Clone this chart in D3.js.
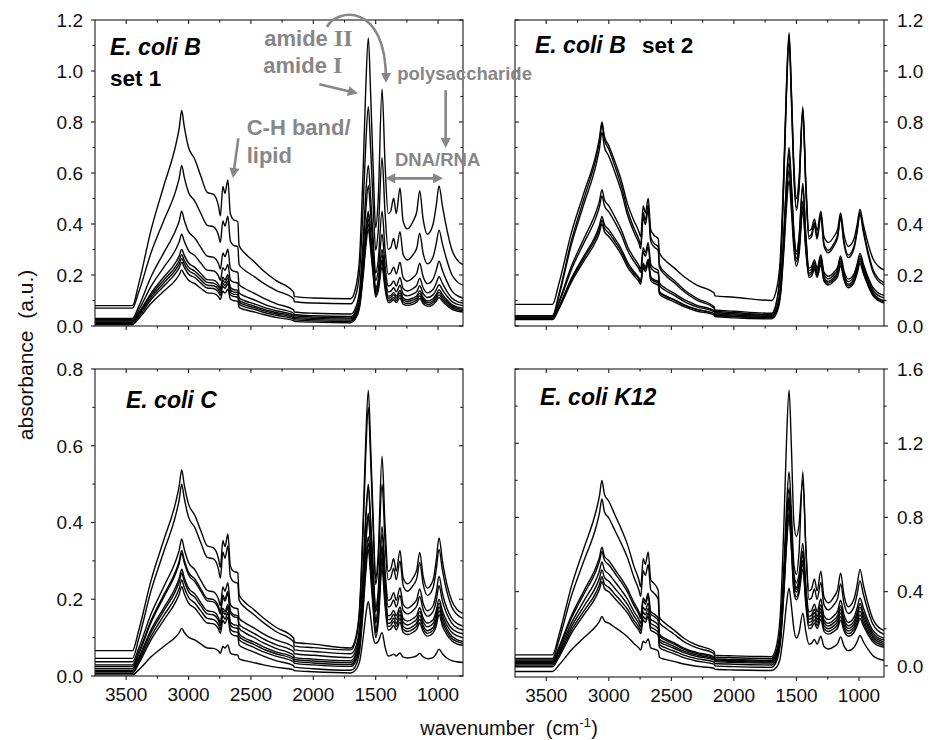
<!DOCTYPE html>
<html><head><meta charset="utf-8">
<script src="https://cdn.jsdelivr.net/npm/d3@7"></script>
<style>
body{margin:0;background:#fff;}
svg{display:block;font-family:"Liberation Sans",Arial,Helvetica,sans-serif;}
</style>
</head><body>
<svg id="chart" width="933" height="740"></svg>
<script>
// ---------------- DATA ----------------
const wavenumbers = [3750,3450,3400,3300,3200,3100,3075,3055,3035,3000,2950,2900,2850,2800,2760,2745,2725,2708,2685,2665,2640,2605,
 2595,2550,2480,2400,2300,2158, 2152,2000,1700,
 1665,1630,1600,1580,1559,1540,1520,1500,1480,1449, 1425,
 1400,1380,1356,1335,1305,1280,1245,1200,1170,1147,1120,1085,1040,1015,992,965,930,890,850,800];

// E. coli B, set 1 (absorbance per wavenumber, one row per spectrum)
const ecoliB_set1 = [
 [0.08,0.08,0.164,0.378,0.547,0.715,0.776,0.845,0.784,0.70,0.654,0.585,0.524,0.516,0.47,0.432,0.547,0.52,0.573,0.44,0.417,0.409, 0.317,0.286,0.255,0.217,0.179,0.133, 0.115,0.11,0.107, 0.141,0.263,0.62,0.926,1.13,0.906,0.62,0.385,0.494,0.93, 0.637, 0.441,0.45,0.501,0.441,0.54,0.411,0.381,0.411,0.45,0.531,0.42,0.36,0.399,0.471,0.549,0.471,0.381,0.30,0.261,0.24],
 [0.07,0.07,0.132,0.288,0.412,0.535,0.58,0.63,0.585,0.524,0.49,0.44,0.395,0.389,0.356,0.328,0.412,0.392,0.431,0.333,0.316,0.311, 0.241,0.219,0.196,0.168,0.14,0.107, 0.095,0.09,0.087, 0.113,0.206,0.475,0.706,0.86,0.691,0.475,0.298,0.37,0.66, 0.445, 0.301,0.307,0.343,0.301,0.37,0.28,0.259,0.28,0.307,0.364,0.286,0.244,0.271,0.322,0.376,0.322,0.259,0.202,0.175,0.16],
 [0.03,0.03,0.076,0.194,0.286,0.379,0.412,0.45,0.416,0.37,0.345,0.307,0.274,0.269,0.244,0.223,0.286,0.272,0.301,0.227,0.215,0.211, 0.163,0.147,0.13,0.109,0.088,0.063, 0.055,0.05,0.047, 0.067,0.137,0.34,0.514,0.63,0.502,0.34,0.207,0.256,0.45, 0.302, 0.204,0.208,0.232,0.204,0.25,0.19,0.176,0.19,0.208,0.246,0.194,0.166,0.184,0.218,0.254,0.218,0.176,0.138,0.12,0.11],
 [0.025,0.025,0.062,0.156,0.229,0.303,0.33,0.36,0.333,0.296,0.276,0.246,0.219,0.216,0.196,0.179,0.229,0.218,0.241,0.182,0.172,0.169, 0.13,0.117,0.104,0.087,0.07,0.05, 0.045,0.04,0.037, 0.055,0.117,0.295,0.448,0.55,0.438,0.295,0.178,0.214,0.36, 0.238, 0.157,0.16,0.177,0.157,0.19,0.147,0.137,0.147,0.16,0.187,0.15,0.13,0.143,0.167,0.193,0.167,0.137,0.11,0.097,0.09],
 [0.02,0.02,0.051,0.129,0.191,0.252,0.275,0.30,0.278,0.247,0.23,0.205,0.182,0.18,0.163,0.149,0.191,0.181,0.201,0.152,0.143,0.14, 0.111,0.099,0.088,0.074,0.06,0.043, 0.04,0.035,0.032, 0.047,0.097,0.243,0.367,0.45,0.359,0.243,0.147,0.178,0.30, 0.20, 0.134,0.136,0.15,0.134,0.16,0.126,0.118,0.126,0.136,0.158,0.128,0.112,0.122,0.142,0.162,0.142,0.118,0.096,0.086,0.08],
 [0.02,0.02,0.049,0.121,0.179,0.236,0.257,0.28,0.259,0.231,0.215,0.192,0.171,0.168,0.153,0.14,0.179,0.17,0.188,0.142,0.134,0.132, 0.1,0.09,0.079,0.066,0.053,0.038, 0.034,0.03,0.028, 0.042,0.092,0.235,0.358,0.44,0.35,0.235,0.141,0.169,0.28, 0.182, 0.117,0.119,0.131,0.117,0.14,0.11,0.103,0.11,0.119,0.138,0.112,0.098,0.107,0.124,0.142,0.124,0.103,0.084,0.075,0.07],
 [0.015,0.015,0.043,0.113,0.168,0.223,0.243,0.265,0.245,0.218,0.203,0.18,0.16,0.158,0.143,0.13,0.168,0.159,0.176,0.133,0.125,0.123, 0.093,0.083,0.073,0.06,0.048,0.033, 0.029,0.025,0.023, 0.037,0.084,0.223,0.341,0.42,0.333,0.223,0.132,0.158,0.26, 0.169, 0.109,0.111,0.122,0.109,0.13,0.102,0.096,0.102,0.111,0.128,0.104,0.091,0.099,0.115,0.132,0.115,0.096,0.078,0.07,0.065],
 [0.01,0.01,0.036,0.104,0.156,0.209,0.228,0.25,0.231,0.204,0.19,0.168,0.149,0.147,0.132,0.12,0.156,0.148,0.165,0.123,0.116,0.113, 0.085,0.075,0.066,0.054,0.042,0.027, 0.024,0.02,0.018, 0.031,0.077,0.21,0.324,0.40,0.316,0.21,0.123,0.148,0.25, 0.16, 0.1,0.102,0.112,0.1,0.12,0.094,0.088,0.094,0.102,0.118,0.096,0.084,0.092,0.106,0.122,0.106,0.088,0.072,0.064,0.06],
 [0.005,0.005,0.029,0.089,0.136,0.183,0.201,0.22,0.203,0.179,0.166,0.147,0.13,0.128,0.115,0.104,0.136,0.129,0.144,0.106,0.1,0.097, 0.073,0.064,0.056,0.045,0.034,0.021, 0.018,0.015,0.013, 0.026,0.07,0.198,0.307,0.38,0.30,0.198,0.114,0.137,0.23, 0.147, 0.092,0.094,0.103,0.092,0.11,0.086,0.081,0.086,0.094,0.108,0.088,0.077,0.084,0.097,0.112,0.097,0.081,0.066,0.059,0.055]
];

// E. coli B, set 2
const ecoliB_set2 = [
 [0.085,0.085,0.164,0.364,0.521,0.678,0.736,0.80,0.743,0.707,0.643,0.571,0.478,0.414,0.371,0.35,0.471,0.443,0.50,0.378,0.357,0.342, 0.287,0.258,0.229,0.194,0.161,0.129, 0.118,0.113,0.10, 0.132,0.258,0.625,0.94,1.15,0.919,0.625,0.50,0.572,0.86, 0.568, 0.374,0.381,0.42,0.374,0.45,0.351,0.328,0.351,0.381,0.443,0.358,0.312,0.342,0.397,0.457,0.397,0.328,0.266,0.236,0.22],
 [0.04,0.04,0.123,0.333,0.498,0.663,0.723,0.79,0.73,0.693,0.625,0.55,0.453,0.385,0.34,0.318,0.445,0.415,0.475,0.348,0.325,0.31, 0.24,0.21,0.18,0.143,0.109,0.075, 0.063,0.058,0.05, 0.083,0.214,0.595,0.922,1.14,0.90,0.595,0.464,0.541,0.85, 0.551, 0.351,0.359,0.405,0.351,0.44,0.324,0.297,0.324,0.359,0.432,0.332,0.278,0.313,0.378,0.448,0.378,0.297,0.224,0.189,0.17],
 [0.035,0.035,0.115,0.318,0.477,0.637,0.695,0.76,0.702,0.666,0.601,0.528,0.434,0.369,0.325,0.303,0.427,0.398,0.456,0.332,0.311,0.296, 0.229,0.20,0.171,0.135,0.102,0.07, 0.058,0.053,0.045, 0.077,0.206,0.583,0.905,1.12,0.884,0.583,0.454,0.531,0.84, 0.541, 0.341,0.349,0.395,0.341,0.43,0.314,0.287,0.314,0.349,0.422,0.322,0.268,0.303,0.368,0.438,0.368,0.287,0.214,0.179,0.16],
 [0.04,0.04,0.094,0.233,0.342,0.451,0.49,0.535,0.495,0.471,0.426,0.377,0.312,0.268,0.238,0.223,0.307,0.288,0.327,0.243,0.228,0.218, 0.169,0.149,0.129,0.104,0.082,0.06, 0.053,0.048,0.042, 0.062,0.141,0.371,0.568,0.70,0.555,0.371,0.292,0.346,0.56, 0.36, 0.227,0.232,0.259,0.227,0.28,0.211,0.195,0.211,0.232,0.275,0.216,0.184,0.205,0.243,0.285,0.243,0.195,0.152,0.131,0.12],
 [0.035,0.035,0.087,0.22,0.325,0.429,0.467,0.51,0.472,0.448,0.406,0.358,0.296,0.254,0.225,0.211,0.292,0.273,0.311,0.23,0.216,0.206, 0.159,0.14,0.121,0.097,0.076,0.055, 0.048,0.043,0.038, 0.057,0.134,0.359,0.552,0.68,0.539,0.359,0.282,0.335,0.545, 0.348, 0.217,0.222,0.249,0.217,0.27,0.201,0.185,0.201,0.222,0.265,0.206,0.174,0.195,0.233,0.275,0.233,0.185,0.142,0.121,0.11],
 [0.03,0.03,0.074,0.186,0.274,0.362,0.394,0.43,0.398,0.378,0.342,0.302,0.25,0.214,0.19,0.178,0.246,0.23,0.262,0.194,0.182,0.174, 0.136,0.12,0.104,0.084,0.066,0.048, 0.043,0.038,0.034, 0.052,0.125,0.337,0.519,0.64,0.507,0.337,0.264,0.309,0.49, 0.32, 0.207,0.212,0.239,0.207,0.26,0.191,0.175,0.191,0.212,0.255,0.196,0.164,0.185,0.223,0.265,0.223,0.175,0.132,0.111,0.10],
 [0.03,0.03,0.072,0.18,0.265,0.35,0.38,0.415,0.384,0.365,0.33,0.292,0.242,0.207,0.184,0.172,0.238,0.223,0.253,0.188,0.176,0.169, 0.132,0.117,0.102,0.082,0.065,0.048, 0.042,0.037,0.032, 0.049,0.119,0.321,0.494,0.61,0.483,0.321,0.252,0.296,0.47, 0.307, 0.199,0.204,0.23,0.199,0.25,0.183,0.168,0.183,0.204,0.245,0.188,0.157,0.177,0.214,0.255,0.214,0.168,0.126,0.106,0.095],
 [0.025,0.025,0.066,0.171,0.254,0.336,0.366,0.40,0.37,0.351,0.318,0.28,0.231,0.198,0.175,0.164,0.228,0.213,0.243,0.179,0.168,0.16, 0.125,0.11,0.095,0.076,0.059,0.043, 0.037,0.032,0.028, 0.044,0.109,0.299,0.462,0.57,0.451,0.299,0.234,0.277,0.45, 0.295, 0.191,0.195,0.221,0.191,0.24,0.176,0.161,0.176,0.195,0.236,0.18,0.15,0.17,0.206,0.245,0.206,0.161,0.12,0.101,0.09]
];

// E. coli C
const ecoliC = [
 [0.066,0.066,0.118,0.25,0.353,0.457,0.495,0.537,0.499,0.448,0.419,0.377,0.339,0.334,0.306,0.283,0.353,0.337,0.37,0.287,0.273,0.269, 0.212,0.193,0.174,0.151,0.127,0.099, 0.088,0.083,0.073, 0.093,0.174,0.409,0.61,0.744,0.596,0.409,0.254,0.318,0.573, 0.393, 0.273,0.278,0.306,0.273,0.327,0.256,0.24,0.256,0.278,0.322,0.261,0.229,0.25,0.30,0.36,0.30,0.24,0.196,0.174,0.163],
 [0.046,0.046,0.096,0.223,0.323,0.423,0.459,0.50,0.464,0.414,0.387,0.346,0.309,0.305,0.278,0.255,0.323,0.307,0.339,0.259,0.246,0.241, 0.198,0.179,0.161,0.139,0.116,0.089, 0.078,0.074,0.068, 0.087,0.163,0.384,0.574,0.70,0.561,0.384,0.239,0.291,0.50, 0.351, 0.251,0.255,0.281,0.251,0.30,0.236,0.221,0.236,0.255,0.296,0.24,0.21,0.23,0.276,0.33,0.276,0.221,0.18,0.161,0.15],
 [0.037,0.037,0.072,0.162,0.232,0.303,0.328,0.357,0.331,0.296,0.277,0.248,0.223,0.219,0.20,0.184,0.232,0.221,0.243,0.187,0.178,0.175, 0.151,0.139,0.126,0.11,0.094,0.075, 0.068,0.064,0.058, 0.071,0.124,0.279,0.412,0.50,0.403,0.279,0.177,0.22,0.39, 0.274, 0.197,0.20,0.217,0.197,0.23,0.187,0.177,0.187,0.20,0.227,0.19,0.17,0.183,0.215,0.26,0.215,0.177,0.15,0.137,0.13],
 [0.029,0.029,0.062,0.145,0.211,0.276,0.30,0.327,0.303,0.27,0.253,0.226,0.202,0.199,0.181,0.166,0.211,0.20,0.221,0.169,0.16,0.157, 0.135,0.124,0.112,0.097,0.082,0.064, 0.058,0.054,0.048, 0.061,0.114,0.269,0.402,0.49,0.393,0.269,0.167,0.208,0.37, 0.256, 0.18,0.183,0.198,0.18,0.21,0.171,0.162,0.171,0.183,0.207,0.174,0.156,0.168,0.195,0.235,0.195,0.162,0.138,0.126,0.12],
 [0.025,0.025,0.057,0.14,0.205,0.27,0.293,0.32,0.296,0.264,0.246,0.22,0.196,0.193,0.175,0.161,0.205,0.195,0.215,0.164,0.155,0.152, 0.125,0.113,0.101,0.086,0.072,0.054, 0.048,0.044,0.04, 0.052,0.098,0.232,0.347,0.424,0.34,0.232,0.144,0.183,0.34, 0.23, 0.157,0.159,0.171,0.157,0.18,0.15,0.143,0.15,0.159,0.178,0.152,0.138,0.147,0.17,0.20,0.17,0.143,0.124,0.115,0.11],
 [0.02,0.02,0.048,0.121,0.177,0.234,0.255,0.278,0.257,0.229,0.214,0.19,0.17,0.167,0.152,0.139,0.177,0.168,0.186,0.141,0.134,0.131, 0.11,0.099,0.089,0.076,0.063,0.048, 0.043,0.039,0.035, 0.046,0.092,0.225,0.339,0.415,0.331,0.225,0.138,0.176,0.33, 0.22, 0.147,0.149,0.161,0.147,0.17,0.14,0.133,0.14,0.149,0.168,0.142,0.128,0.137,0.16,0.19,0.16,0.133,0.114,0.105,0.10],
 [0.015,0.015,0.043,0.114,0.169,0.225,0.245,0.268,0.248,0.22,0.205,0.182,0.162,0.159,0.144,0.131,0.169,0.16,0.178,0.134,0.126,0.124, 0.103,0.093,0.083,0.07,0.058,0.043, 0.038,0.034,0.03, 0.04,0.08,0.197,0.296,0.363,0.29,0.197,0.12,0.158,0.31, 0.206, 0.137,0.139,0.151,0.137,0.16,0.13,0.123,0.13,0.139,0.158,0.132,0.118,0.127,0.15,0.18,0.15,0.123,0.104,0.095,0.09],
 [0.011,0.011,0.037,0.104,0.157,0.209,0.228,0.25,0.231,0.205,0.19,0.169,0.15,0.147,0.133,0.121,0.157,0.148,0.165,0.123,0.116,0.114, 0.095,0.085,0.075,0.063,0.052,0.037, 0.033,0.029,0.025, 0.035,0.073,0.186,0.282,0.346,0.275,0.186,0.112,0.15,0.30, 0.197, 0.129,0.131,0.142,0.129,0.15,0.122,0.116,0.122,0.131,0.148,0.124,0.111,0.119,0.14,0.17,0.14,0.116,0.098,0.09,0.085],
 [0.007,0.007,0.032,0.095,0.145,0.195,0.213,0.233,0.215,0.19,0.177,0.156,0.138,0.136,0.122,0.111,0.145,0.137,0.153,0.113,0.106,0.104, 0.081,0.072,0.063,0.052,0.04,0.027, 0.023,0.019,0.015, 0.024,0.062,0.173,0.267,0.33,0.261,0.173,0.10,0.136,0.28, 0.184, 0.12,0.122,0.132,0.12,0.14,0.114,0.108,0.114,0.122,0.138,0.116,0.104,0.112,0.13,0.16,0.13,0.108,0.092,0.084,0.08],
 [0.003,0.003,0.016,0.05,0.077,0.103,0.113,0.124,0.114,0.101,0.094,0.083,0.073,0.072,0.065,0.059,0.077,0.073,0.081,0.06,0.056,0.055, 0.045,0.04,0.035,0.029,0.023,0.016, 0.014,0.011,0.008, 0.014,0.036,0.101,0.157,0.194,0.153,0.101,0.085,0.09,0.113, 0.076, 0.052,0.053,0.057,0.052,0.06,0.049,0.047,0.049,0.053,0.059,0.05,0.045,0.048,0.058,0.07,0.058,0.047,0.04,0.037,0.035]
];

// E. coli K12
const ecoliK12 = [
 [0.059,0.059,0.163,0.426,0.633,0.84,0.915,1.0,0.925,0.887,0.812,0.737,0.652,0.539,0.464,0.426,0.577,0.548,0.614,0.464,0.445,0.407, 0.262,0.23,0.194,0.149,0.113,0.077, 0.058,0.054,0.05, 0.093,0.266,0.769,1.20,1.487,1.171,0.769,0.697,0.758,1.0, 0.642, 0.404,0.414,0.468,0.404,0.51,0.372,0.34,0.372,0.414,0.50,0.382,0.318,0.36,0.436,0.52,0.436,0.34,0.254,0.212,0.19],
 [0.04,0.04,0.135,0.375,0.565,0.754,0.823,0.90,0.831,0.797,0.728,0.659,0.582,0.479,0.41,0.375,0.513,0.487,0.547,0.41,0.393,0.358, 0.234,0.205,0.172,0.131,0.098,0.065, 0.048,0.044,0.04, 0.07,0.191,0.544,0.846,1.047,0.825,0.544,0.493,0.604,1.047, 0.634, 0.358,0.366,0.414,0.358,0.45,0.33,0.302,0.33,0.366,0.442,0.338,0.282,0.318,0.386,0.458,0.386,0.302,0.226,0.19,0.17],
 [0.032,0.032,0.099,0.269,0.403,0.537,0.585,0.64,0.591,0.567,0.518,0.47,0.415,0.342,0.293,0.269,0.366,0.348,0.391,0.293,0.281,0.257, 0.169,0.148,0.125,0.096,0.073,0.049, 0.038,0.034,0.03, 0.058,0.169,0.494,0.772,0.957,0.753,0.494,0.447,0.49,0.66, 0.439, 0.291,0.297,0.333,0.291,0.36,0.27,0.249,0.27,0.297,0.354,0.276,0.234,0.261,0.312,0.366,0.312,0.249,0.192,0.165,0.15],
 [0.025,0.025,0.09,0.255,0.386,0.516,0.563,0.616,0.569,0.545,0.498,0.451,0.397,0.326,0.279,0.255,0.35,0.332,0.374,0.279,0.267,0.244, 0.16,0.14,0.117,0.089,0.067,0.044, 0.033,0.029,0.025, 0.052,0.158,0.468,0.733,0.91,0.715,0.468,0.423,0.462,0.62, 0.408, 0.267,0.273,0.305,0.267,0.33,0.248,0.229,0.248,0.273,0.324,0.254,0.216,0.241,0.286,0.336,0.286,0.229,0.178,0.153,0.14],
 [0.018,0.018,0.078,0.229,0.349,0.468,0.511,0.56,0.517,0.495,0.452,0.408,0.359,0.294,0.251,0.229,0.316,0.30,0.338,0.251,0.24,0.219, 0.144,0.126,0.105,0.079,0.059,0.037, 0.028,0.024,0.02, 0.046,0.151,0.457,0.719,0.894,0.702,0.457,0.413,0.45,0.60, 0.391, 0.251,0.256,0.287,0.251,0.31,0.233,0.215,0.233,0.256,0.305,0.238,0.202,0.225,0.269,0.315,0.269,0.215,0.166,0.143,0.13],
 [0.012,0.012,0.068,0.209,0.32,0.431,0.472,0.517,0.477,0.456,0.416,0.376,0.33,0.27,0.229,0.209,0.29,0.275,0.31,0.229,0.219,0.199, 0.131,0.114,0.095,0.071,0.051,0.032, 0.023,0.019,0.015, 0.041,0.143,0.441,0.697,0.867,0.68,0.441,0.398,0.432,0.57, 0.368, 0.234,0.239,0.268,0.234,0.29,0.217,0.20,0.217,0.239,0.285,0.222,0.188,0.21,0.251,0.295,0.251,0.20,0.154,0.132,0.12],
 [0.005,0.005,0.057,0.19,0.295,0.399,0.437,0.48,0.442,0.423,0.385,0.347,0.304,0.247,0.209,0.19,0.266,0.252,0.285,0.209,0.20,0.181, 0.115,0.098,0.08,0.058,0.039,0.021, 0.013,0.009,0.005, 0.029,0.127,0.413,0.657,0.82,0.641,0.413,0.372,0.408,0.55, 0.35, 0.217,0.222,0.249,0.217,0.27,0.201,0.185,0.201,0.222,0.265,0.206,0.174,0.195,0.233,0.275,0.233,0.185,0.142,0.121,0.11],
 [-0.005,-0.005,0.045,0.174,0.275,0.376,0.413,0.454,0.417,0.399,0.362,0.325,0.284,0.229,0.192,0.174,0.247,0.234,0.266,0.192,0.183,0.165, 0.099,0.083,0.066,0.044,0.026,0.009, 0.0,-0.004,-0.008, 0.016,0.113,0.396,0.638,0.80,0.622,0.396,0.356,0.389,0.52, 0.329, 0.201,0.205,0.231,0.201,0.25,0.186,0.171,0.186,0.205,0.246,0.19,0.16,0.18,0.216,0.255,0.216,0.171,0.13,0.111,0.10],
 [-0.03,-0.03,0.003,0.085,0.151,0.216,0.239,0.266,0.242,0.23,0.207,0.183,0.156,0.121,0.097,0.085,0.133,0.124,0.145,0.097,0.091,0.08, 0.045,0.035,0.024,0.01,-0.002,-0.013, -0.018,-0.022,-0.025, -0.012,0.041,0.197,0.329,0.418,0.321,0.197,0.15,0.177,0.284, 0.184, 0.117,0.121,0.143,0.117,0.16,0.104,0.091,0.104,0.121,0.156,0.108,0.082,0.099,0.13,0.164,0.13,0.091,0.056,0.039,0.03]
];

const xTickValues = [3500,3000,2500,2000,1500,1000];
const xMinorTicks = [3250,2750,2250,1750,1250];
const yTicksB = [0,0.2,0.4,0.6,0.8,1.0,1.2];
const yMinorB = [0.1,0.3,0.5,0.7,0.9,1.1];
const yTicksC = [0,0.2,0.4,0.6,0.8];
const yMinorC = [0.1,0.3,0.5,0.7];
const yTicksK12 = [0,0.4,0.8,1.2,1.6];
const yMinorK12 = [0.2,0.6,1.0,1.4];
const panelNames = ["E. coli B", "E. coli B", "E. coli C", "E. coli K12"];
const panelSets = ["set 1", "set 2", "", ""];

// annotations of the first panel (wavenumber, absorbance)
const annotationTexts = [
 {text:"amide ", roman:"II", wn:2393, a:1.099, size:22},
 {text:"amide ", roman:"I", wn:2401, a:0.991, size:22},
 {text:"polysaccharide", wn:1327, a:0.965, size:18.5},
 {text:"C-H band/", wn:2534, a:0.749, size:22},
 {text:"lipid", wn:2534, a:0.639, size:22},
 {text:"DNA/RNA", wn:1345, a:0.627, size:18.5}
];
const curvedArrow = [[1890,1.173],[1810,1.247],[1417,1.271],[1417,0.965]];
const straightArrows = [
 {from:[1952,0.948], to:[1666,0.915], both:false},
 {from:[939,0.925], to:[939,0.71], both:false},
 {from:[2601,0.736], to:[2641,0.592], both:false},
 {from:[1399,0.579], to:[984,0.579], both:true}
];

// ---------------- LAYOUT ----------------
const panels = [
 {curves:ecoliB_set1, x0:95, x1:463, y0:20, y1:326, yDomain:[0,1.2], ticks:yTicksB, minor:yMinorB, side:"left", xLabels:false},
 {curves:ecoliB_set2, x0:515, x1:884, y0:20, y1:326, yDomain:[0,1.2], ticks:yTicksB, minor:yMinorB, side:"right", xLabels:false},
 {curves:ecoliC, x0:95, x1:463, y0:369, y1:676, yDomain:[0,0.8], ticks:yTicksC, minor:yMinorC, side:"left", xLabels:true},
 {curves:ecoliK12, x0:515, x1:884, y0:369, y1:677, yDomain:[-0.06,1.6], ticks:yTicksK12, minor:yMinorK12, side:"right", xLabels:true}
];
const titlePos = [
 {dx:15, dy:35, setDx:15, setDy:66},
 {dx:20, dy:33, setDx:127, setDy:33},
 {dx:31, dy:39},
 {dx:25, dy:36}
];

const svg = d3.select("#chart");
const defs = svg.append("defs");
const gray = "#878787";
defs.append("marker").attr("id","ah").attr("viewBox","0 0 10 10")
  .attr("refX",7).attr("refY",5).attr("markerWidth",11).attr("markerHeight",10)
  .attr("markerUnits","userSpaceOnUse").attr("orient","auto-start-reverse")
  .append("path").attr("d","M0,0 L10,5 L0,10 z").attr("fill",gray);

const MAJ = 4, MIN = 2.6;
const fmt = d3.format(".1f");
let firstScales = null;

panels.forEach((p, pi) => {
  const x = d3.scaleLinear().domain([3750,800]).range([p.x0,p.x1]);
  const y = d3.scaleLinear().domain(p.yDomain).range([p.y1,p.y0]);
  if (pi === 0) firstScales = {x, y};
  const g = svg.append("g");
  const cid = "clip"+pi;
  defs.append("clipPath").attr("id",cid).append("rect")
    .attr("x",p.x0).attr("y",p.y0).attr("width",p.x1-p.x0).attr("height",p.y1-p.y0);

  const line = d3.line().x((d,i)=>x(wavenumbers[i])).y(d=>y(d)).curve(d3.curveMonotoneX);
  g.append("g").attr("clip-path",`url(#${cid})`).selectAll("path").data(p.curves).join("path")
    .attr("d", line).attr("fill","none").attr("stroke","#050505")
    .attr("stroke-width",1.4).attr("stroke-linejoin","round");

  // frame
  g.append("rect").attr("x",p.x0).attr("y",p.y0).attr("width",p.x1-p.x0).attr("height",p.y1-p.y0)
    .attr("fill","none").attr("stroke","#1a1a1a").attr("stroke-width",1.1);

  const tk = g.append("g").attr("stroke","#1a1a1a").attr("stroke-width",1.1);
  xTickValues.forEach(v=>{
    tk.append("line").attr("x1",x(v)).attr("x2",x(v)).attr("y1",p.y1).attr("y2",p.y1+MAJ);
    tk.append("line").attr("x1",x(v)).attr("x2",x(v)).attr("y1",p.y0).attr("y2",p.y0+MAJ);
  });
  xMinorTicks.forEach(v=>{
    tk.append("line").attr("x1",x(v)).attr("x2",x(v)).attr("y1",p.y1).attr("y2",p.y1+MIN);
    tk.append("line").attr("x1",x(v)).attr("x2",x(v)).attr("y1",p.y0).attr("y2",p.y0+MIN);
  });
  const outX = p.side==="left" ? p.x0 : p.x1;
  const outDir = p.side==="left" ? -1 : 1;
  const inX = p.side==="left" ? p.x1 : p.x0;
  const inDir = p.side==="left" ? -1 : 1;
  p.ticks.forEach(v=>{
    tk.append("line").attr("x1",outX).attr("x2",outX+outDir*MAJ).attr("y1",y(v)).attr("y2",y(v));
    tk.append("line").attr("x1",inX).attr("x2",inX+inDir*MAJ).attr("y1",y(v)).attr("y2",y(v));
  });
  p.minor.forEach(v=>{
    tk.append("line").attr("x1",outX).attr("x2",outX+outDir*MIN).attr("y1",y(v)).attr("y2",y(v));
    tk.append("line").attr("x1",inX).attr("x2",inX+inDir*MIN).attr("y1",y(v)).attr("y2",y(v));
  });
  g.append("g").selectAll("text").data(p.ticks).join("text")
    .attr("x", p.side==="left" ? p.x0-12 : p.x1+13)
    .attr("y", d=>y(d)+6.8)
    .attr("text-anchor", p.side==="left" ? "end" : "start")
    .attr("font-size",19).attr("fill","#111").text(d=>fmt(d));
  if (p.xLabels) {
    g.append("g").selectAll("text").data(xTickValues).join("text")
      .attr("x", d=>x(d)).attr("y", p.y1+25).attr("text-anchor","middle")
      .attr("font-size",19).attr("fill","#111").text(d=>d);
  }
  const tp = titlePos[pi];
  g.append("text").attr("x",p.x0+tp.dx).attr("y",p.y0+tp.dy)
    .attr("font-size",23).attr("font-weight","bold").attr("font-style","italic")
    .attr("fill","#000").text(panelNames[pi]);
  if (panelSets[pi]) {
    g.append("text").attr("x",p.x0+tp.setDx).attr("y",p.y0+tp.setDy)
      .attr("font-size",22.5).attr("font-weight","bold").attr("fill","#000").text(panelSets[pi]);
  }
});

// annotations (first panel)
const ax = firstScales.x, ay = firstScales.y;
const ann = svg.append("g");
annotationTexts.forEach(a=>{
  const t = ann.append("text").attr("x",ax(a.wn)).attr("y",ay(a.a))
    .attr("font-size",a.size).attr("font-weight","bold").attr("fill",gray)
    .attr("xml:space","preserve");
  t.append("tspan").text(a.text);
  if (a.roman) t.append("tspan").attr("font-family","'Liberation Serif','Times New Roman',serif")
     .attr("font-size",a.size+2).text(a.roman);
});
const cp = curvedArrow.map(d=>[ax(d[0]), ay(d[1])]);
ann.append("path")
  .attr("d",`M${cp[0][0]},${cp[0][1]} C${cp[1][0]},${cp[1][1]} ${cp[2][0]},${cp[2][1]} ${cp[3][0]},${cp[3][1]}`)
  .attr("fill","none").attr("stroke",gray).attr("stroke-width",2.6).attr("marker-end","url(#ah)");
straightArrows.forEach(s=>{
  const l = ann.append("line").attr("x1",ax(s.from[0])).attr("y1",ay(s.from[1]))
    .attr("x2",ax(s.to[0])).attr("y2",ay(s.to[1]))
    .attr("stroke",gray).attr("stroke-width",2.6).attr("marker-end","url(#ah)");
  if (s.both) l.attr("marker-start","url(#ah)");
});

// axis titles
svg.append("text").attr("transform","translate(33,355) rotate(-90)")
  .attr("text-anchor","middle").attr("font-size",21).attr("fill","#111")
  .text("absorbance\u00a0\u00a0(a.u.)");
const xt = svg.append("text").attr("x",509).attr("y",735).attr("text-anchor","middle")
  .attr("font-size",20).attr("fill","#111");
xt.append("tspan").text("wavenumber\u00a0\u00a0(cm");
xt.append("tspan").attr("font-size",13.5).attr("dy",-8).text("-1");
xt.append("tspan").attr("dy",8).text(")");
</script>
</body></html>
